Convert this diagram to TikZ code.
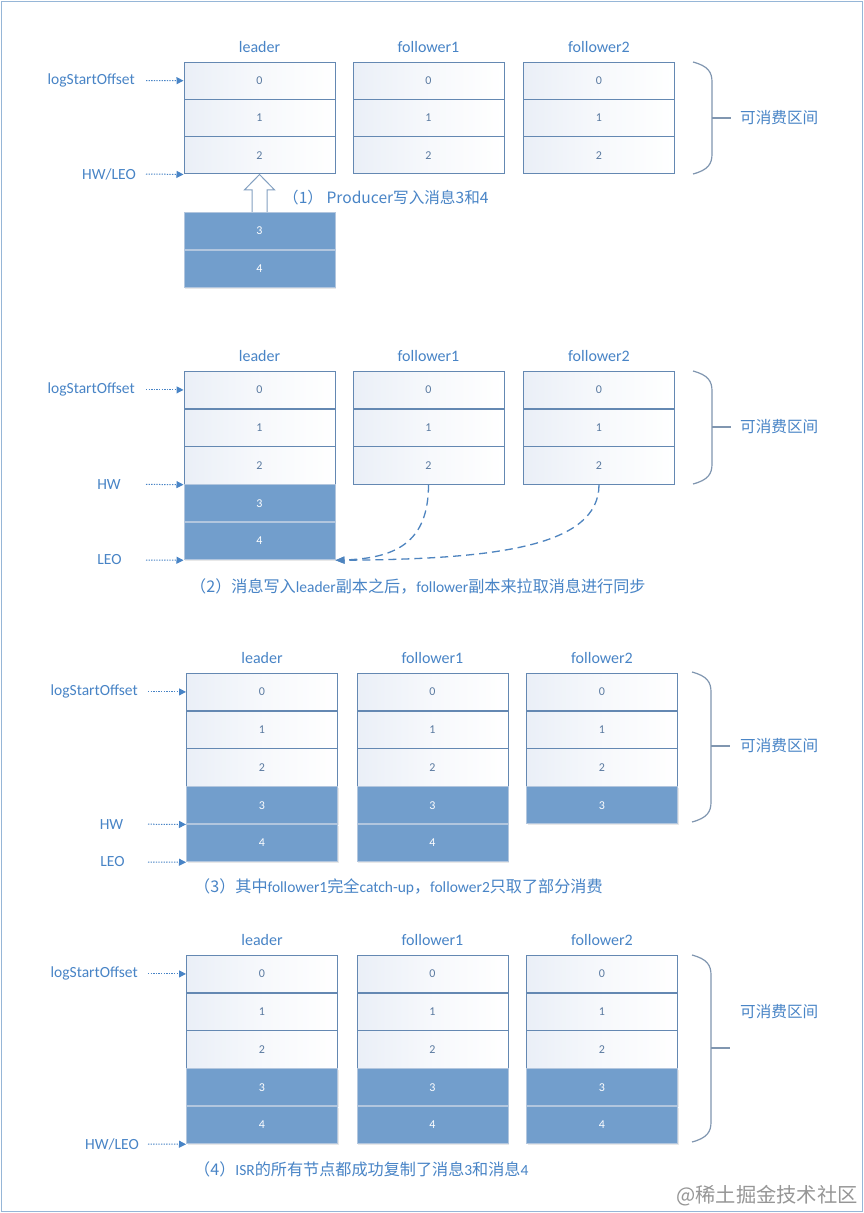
\documentclass[tikz,border=0pt]{standalone}
\usepackage{fontspec}
\setmainfont{Carlito}
\newfontfamily\cjk[Scale=1.04]{Noto Sans CJK SC}
\newcommand\zh[1]{{\cjk #1}}
\usetikzlibrary{arrows.meta,calc,shadows}
\definecolor{tb}{RGB}{72,132,198}
\definecolor{cellbd}{RGB}{100,136,178}
\definecolor{numc}{RGB}{90,122,160}
\definecolor{darkc}{RGB}{114,158,204}
\definecolor{darkbd}{RGB}{178,198,222}
\definecolor{bracec}{RGB}{128,150,176}
\definecolor{framec}{RGB}{150,182,215}
\definecolor{shadeL}{RGB}{234,239,247}
\definecolor{wmark}{RGB}{150,150,150}

\newcommand{\mkcol}[7]{% prefix, xcenter, ytop, rowheight, first, lastwhite, last
  \foreach \r in {#5,...,#7}{
    \ifnum\r>#6
      \node[dcell] (#1\r) at (#2, {#3 + (\r - #5 + 0.5)*#4}) {\r};
    \else
      \node[wcell] (#1\r) at (#2, {#3 + (\r - #5 + 0.5)*#4}) {\r};
    \fi
  }
}
\newcommand{\mkbrace}[5]{% name, ytop, ybot, ytick, xleft
  \draw[brc] (#5,#2) .. controls +(15,4) and +(0,-10) .. (#5+19,#2+20)
     -- (#5+19,#3-20) .. controls +(0,10) and +(15,-4) .. (#5,#3);
  \draw[brc] (#5+19,#4) -- (#5+38,#4);
}

\begin{document}
\begin{tikzpicture}[x=1pt,y=-1pt,
  wcell/.style={draw=cellbd, line width=1pt, left color=shadeL, right color=white,
    middle color=white!60!shadeL,
    minimum width=151pt, minimum height=37.3pt, inner sep=0pt, text=numc,
    font=\fontsize{12}{12}\selectfont},
  dcell/.style={draw=darkbd, line width=1pt, fill=darkc, text=white,
    minimum width=151pt, minimum height=37.3pt, inner sep=0pt,
    font=\fontsize{12}{12}\selectfont,
    drop shadow={shadow xshift=1.2pt, shadow yshift=-1.5pt, opacity=0.15, fill=black!60}},
  hdr/.style={text=tb, font=\fontsize{16}{16}\selectfont, inner sep=0pt},
  lbl/.style={text=tb, font=\fontsize{15.5}{15.5}\selectfont, inner sep=0pt},
  captxt/.style={text=tb, font=\fontsize{15.5}{15.5}\selectfont, inner sep=0pt, anchor=west},
  rtxt/.style={text=tb, font=\fontsize{15}{15}\selectfont, inner sep=0pt, anchor=west},
  ptr/.style={draw=tb, line width=1pt, dash pattern=on 1.3pt off 1.3pt,
    -{Triangle[length=7pt,width=7pt]}},
  dsh/.style={draw=tb!90!gray, line width=1.3pt, dash pattern=on 8pt off 5pt,
    -{Triangle[length=9pt,width=7pt]}},
  brc/.style={draw=bracec, line width=1.2pt},
  hollow/.style={draw=cellbd!80!white, line width=1pt, fill=white, line join=miter}
]
\useasboundingbox (0,0) rectangle (864,1213);
\fill[white] (0,0) rectangle (864,1213);
\draw[framec, line width=1.5pt] (1.5,1.5) rectangle (862.5,1211.5);

\coordinate (s12) at (146,0);
\coordinate (s34) at (148,0);

% ================= Panel 1 =================
\mkcol{p1L}{259.5}{62}{37.33}{0}{2}{2}
\mkcol{p1A}{428.5}{62}{37.33}{0}{2}{2}
\mkcol{p1B}{599}{62}{37.33}{0}{2}{2}
\mkcol{p1P}{259.5}{212}{38}{3}{2}{4}
\node[hdr] (h1L) at ([yshift=15pt]p1L0.north) {leader};
\node[hdr] (h1A) at ([yshift=15pt]p1A0.north) {follower1};
\node[hdr] (h1B) at ([yshift=15pt]p1B0.north) {follower2};
\node[lbl, anchor=east] (lso1) at (135,80.7) {logStartOffset};
\node[lbl] (hl1) at (109,174) {HW/LEO};
\draw[ptr] (lso1 -| s12) -- (p1L0.west);
\draw[ptr] (hl1 -| s12) -- (p1L2.south west);
\draw[hollow] ([xshift=-7.5pt]p1P3.north) -- ([xshift=-7.5pt,yshift=22pt]p1P3.north)
  -- ([xshift=-15pt,yshift=22pt]p1P3.north) -- (p1L2.south)
  -- ([xshift=15pt,yshift=22pt]p1P3.north) -- ([xshift=7.5pt,yshift=22pt]p1P3.north)
  -- ([xshift=7.5pt]p1P3.north);
\node[rtxt] (c1) at (283,198) {\zh{（1） Producer写入消息3和4}};
\mkbrace{b1}{62}{174}{118}{693}
\node[rtxt] (r1) at (740,118) {\zh{可消费区间}};

% ================= Panel 2 =================
\mkcol{p2L}{259.5}{371}{37.8}{0}{2}{4}
\mkcol{p2A}{428.5}{371}{37.8}{0}{2}{2}
\mkcol{p2B}{599}{371}{37.8}{0}{2}{2}
\node[hdr] (h2L) at ([yshift=15pt]p2L0.north) {leader};
\node[hdr] (h2A) at ([yshift=15pt]p2A0.north) {follower1};
\node[hdr] (h2B) at ([yshift=15pt]p2B0.north) {follower2};
\node[lbl, anchor=east] (lso2) at (135,389.9) {logStartOffset};
\node[lbl] (hw2) at (109,484.4) {HW};
\node[lbl] (leo2) at (109.5,560) {LEO};
\draw[ptr] (lso2 -| s12) -- (p2L0.west);
\draw[ptr] (hw2 -| s12) -- (p2L2.south west);
\draw[ptr] (leo2 -| s12) -- (p2L4.south west);
\draw[dsh] (p2A2.south) .. controls +(0,58) and +(60,-2) .. (p2L4.south east);
\draw[dsh] (p2B2.south) .. controls +(0,62) and +(160,-1) .. (p2L4.south east);
\node[captxt] (c2) at (190,586) {\zh{（2）消息写入}leader\zh{副本之后，}follower\zh{副本来拉取消息进行同步}};
\mkbrace{b2}{371}{484}{427}{693}
\node[rtxt] (r2) at (740,427) {\zh{可消费区间}};

% ================= Panel 3 =================
\mkcol{p3L}{262}{673}{37.8}{0}{2}{4}
\mkcol{p3A}{432.5}{673}{37.8}{0}{2}{4}
\mkcol{p3B}{602}{673}{37.8}{0}{2}{3}
\node[hdr] (h3L) at ([yshift=15pt]p3L0.north) {leader};
\node[hdr] (h3A) at ([yshift=15pt]p3A0.north) {follower1};
\node[hdr] (h3B) at ([yshift=15pt]p3B0.north) {follower2};
\node[lbl, anchor=east] (lso3) at (138,691.9) {logStartOffset};
\node[lbl] (hw3) at (111.5,824.2) {HW};
\node[lbl] (leo3) at (112.5,862) {LEO};
\draw[ptr] (lso3 -| s34) -- (p3L0.west);
\draw[ptr] (hw3 -| s34) -- (p3L3.south west);
\draw[ptr] (leo3 -| s34) -- (p3L4.south west);
\node[captxt] (c3) at (194,887) {\zh{（3）其中}follower1\zh{完全}catch-up\zh{，}follower2\zh{只取了部分消费}};
\mkbrace{b3}{672}{822}{746}{692}
\node[rtxt] (r3) at (740,746) {\zh{可消费区间}};

% ================= Panel 4 =================
\mkcol{p4L}{262}{955}{37.8}{0}{2}{4}
\mkcol{p4A}{432.5}{955}{37.8}{0}{2}{4}
\mkcol{p4B}{602}{955}{37.8}{0}{2}{4}
\node[hdr] (h4L) at ([yshift=15pt]p4L0.north) {leader};
\node[hdr] (h4A) at ([yshift=15pt]p4A0.north) {follower1};
\node[hdr] (h4B) at ([yshift=15pt]p4B0.north) {follower2};
\node[lbl, anchor=east] (lso4) at (138,973.9) {logStartOffset};
\node[lbl] (hl4) at (112,1144) {HW/LEO};
\draw[ptr] (lso4 -| s34) -- (p4L0.west);
\draw[ptr] (hl4 -| s34) -- (p4L4.south west);
\node[captxt] (c4) at (194,1169) {\zh{（4）}ISR\zh{的所有节点都成功复制了消息}3\zh{和消息}4};
\mkbrace{b4}{955}{1142}{1048}{692}
\node[rtxt] (r4) at (740,1012) {\zh{可消费区间}};

% watermark
\node[text=wmark, font=\cjk\fontsize{19.5}{19.5}\selectfont, anchor=east, inner sep=0pt] (wm) at (858,1196) {@稀土掘金技术社区};
\end{tikzpicture}
\end{document}
